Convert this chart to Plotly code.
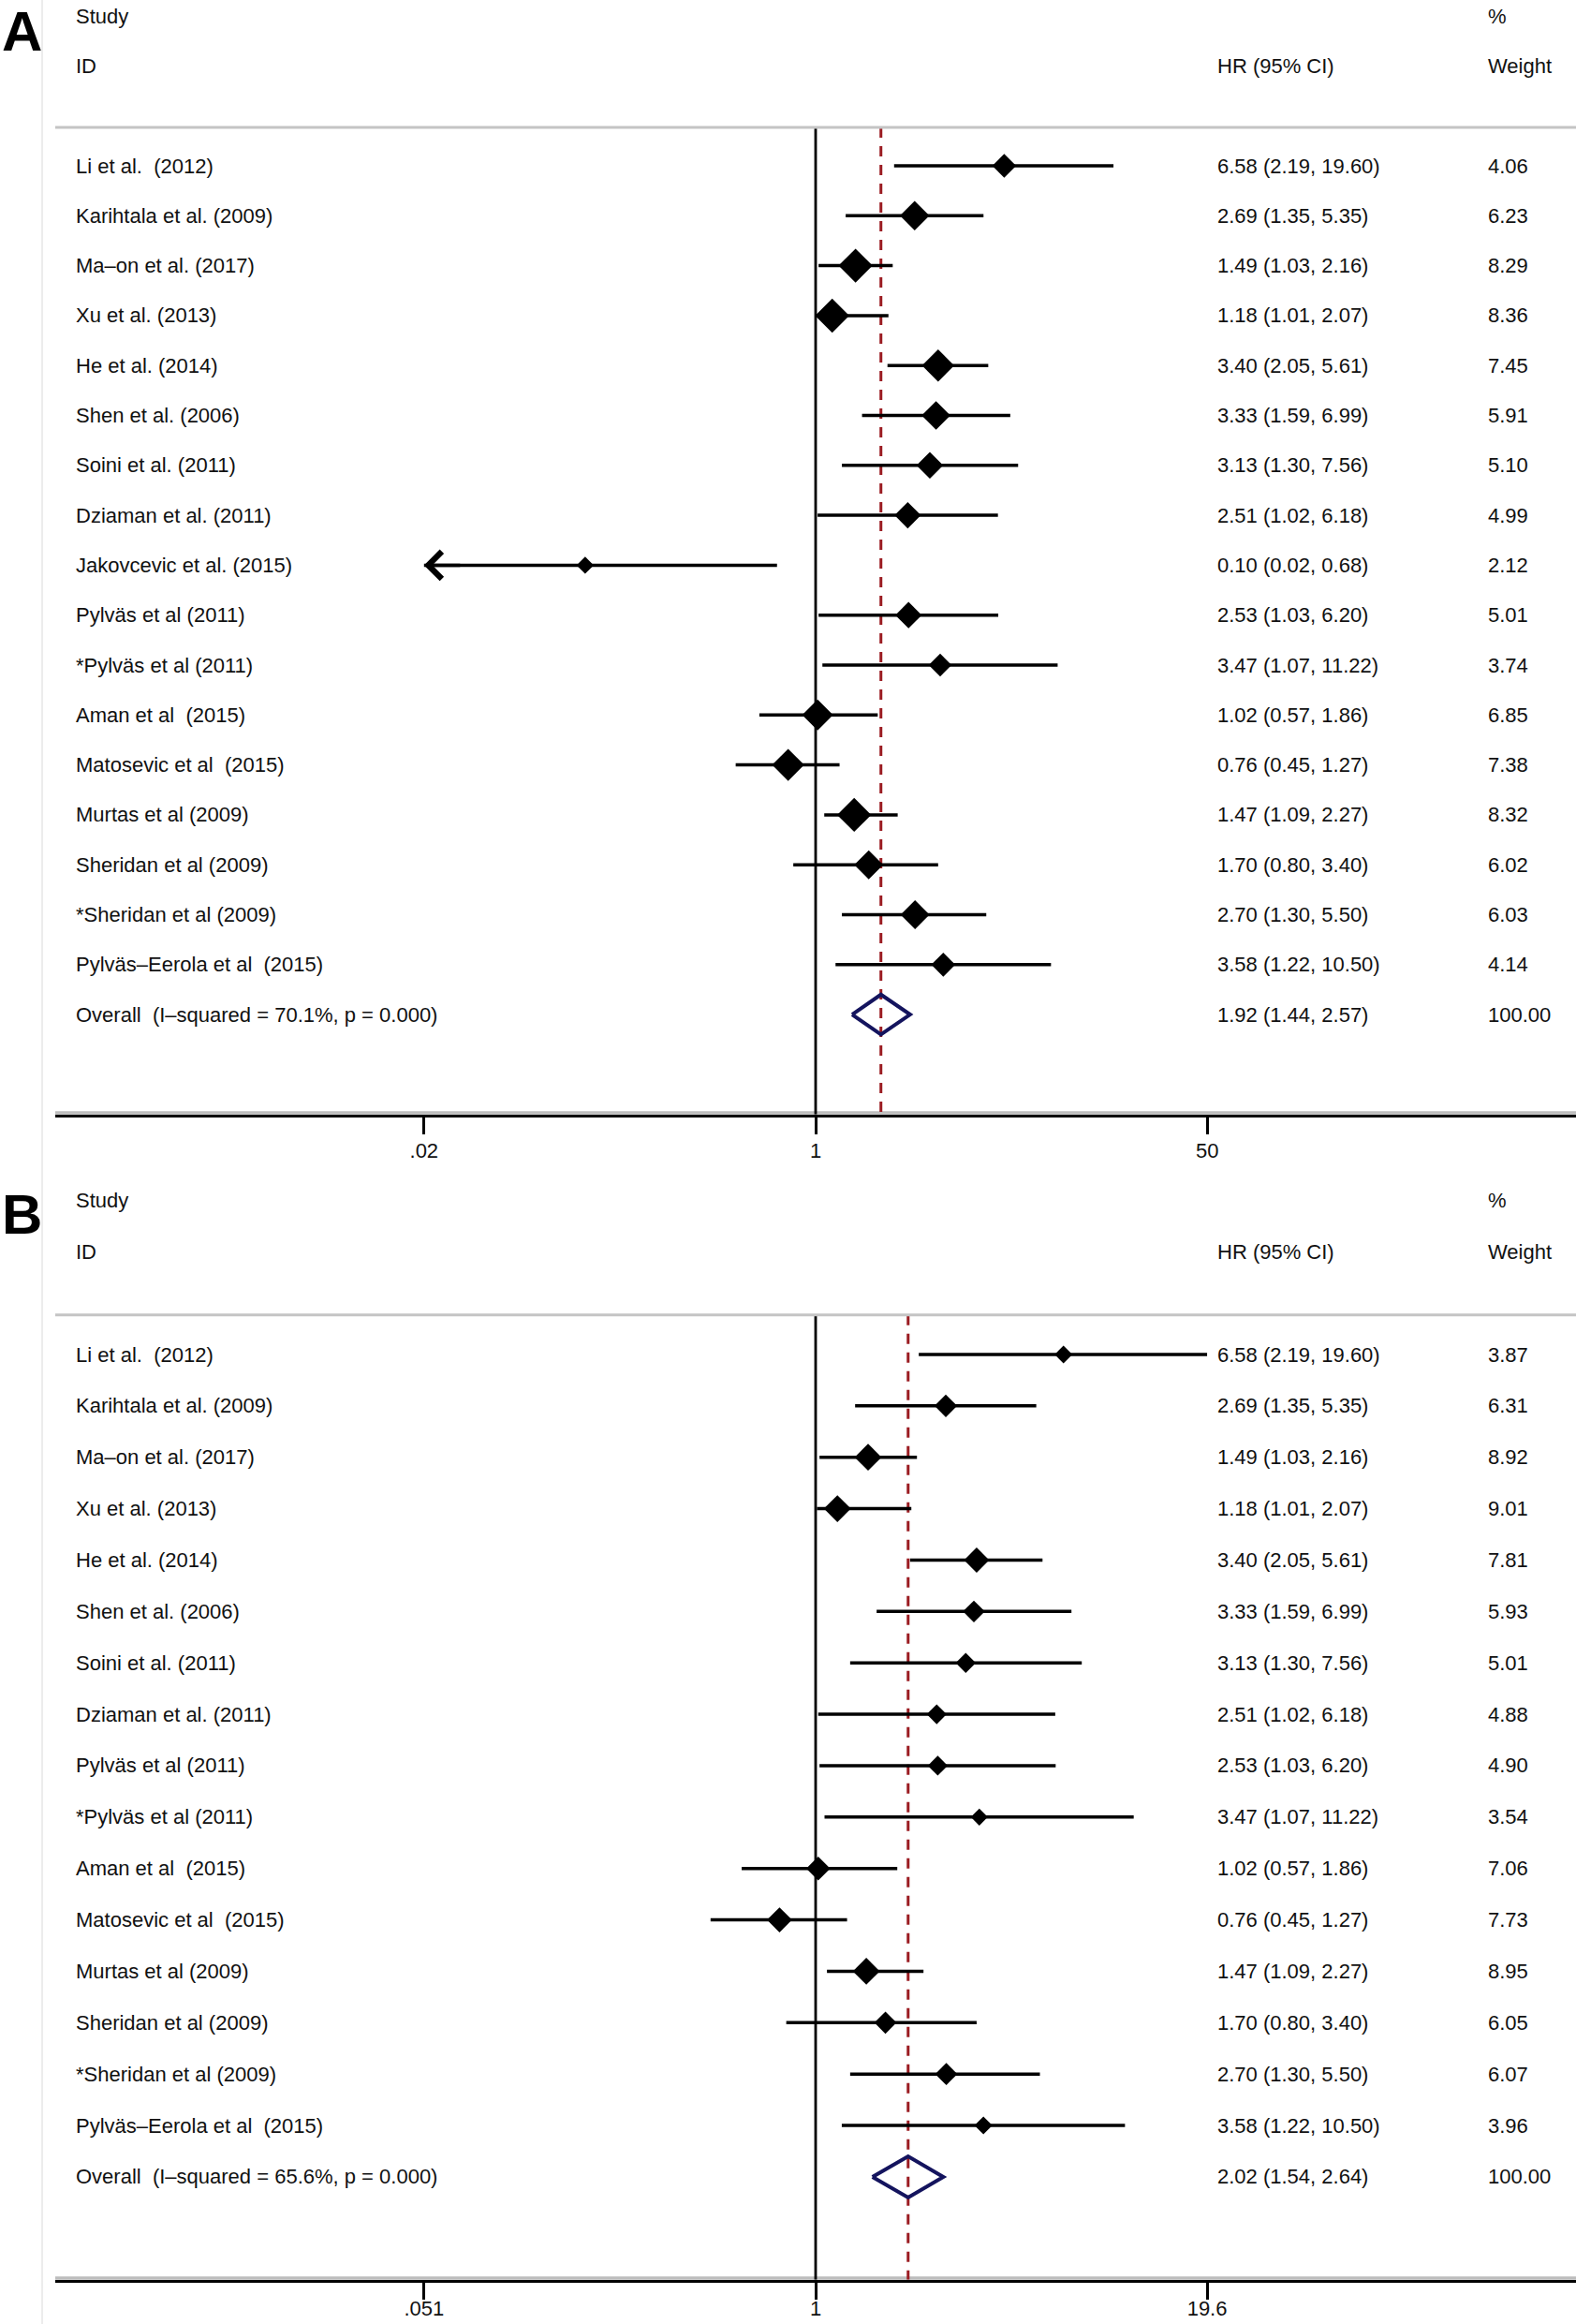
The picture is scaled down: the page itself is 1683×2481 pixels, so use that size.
import numpy as np
import plotly.graph_objects as go

# ─────────────────────────────────────────────
# Data — panel A (17 studies)
# ─────────────────────────────────────────────
studies_a = [
    "Li et al.  (2012)", "Karihtala et al. (2009)", "Ma–on et al. (2017)", "Xu et al. (2013)",
    "He et al. (2014)", "Shen et al. (2006)", "Soini et al. (2011)", "Dziaman et al. (2011)",
    "Jakovcevic et al. (2015)", "Pylväs et al (2011)", "*Pylväs et al (2011)", "Aman et al  (2015)",
    "Matosevic et al  (2015)", "Murtas et al (2009)", "Sheridan et al (2009)",
    "*Sheridan et al (2009)", "Pylväs–Eerola et al  (2015)",
]
hr_a = [6.58, 2.69, 1.49, 1.18, 3.40, 3.33, 3.13, 2.51, 0.10, 2.53, 3.47, 1.02, 0.76, 1.47, 1.70, 2.70, 3.58]
lo_a = [2.19, 1.35, 1.03, 1.01, 2.05, 1.59, 1.30, 1.02, 0.02, 1.03, 1.07, 0.57, 0.45, 1.09, 0.80, 1.30, 1.22]
hi_a = [19.60, 5.35, 2.16, 2.07, 5.61, 6.99, 7.56, 6.18, 0.68, 6.20, 11.22, 1.86, 1.27, 2.27, 3.40, 5.50, 10.50]
wt_a = [4.06, 6.23, 8.29, 8.36, 7.45, 5.91, 5.10, 4.99, 2.12, 5.01, 3.74, 6.85, 7.38, 8.32, 6.02, 6.03, 4.14]
overall_a = [1.92, 1.44, 2.57]
overall_label_a = "Overall  (I–squared = 70.1%, p = 0.000)"
ticks_a = [0.02, 1, 50]
ticktext_a = [".02", "1", "50"]

# ─────────────────────────────────────────────
# Data — panel B (16 studies)
# ─────────────────────────────────────────────
studies_b = [
    "Li et al.  (2012)", "Karihtala et al. (2009)", "Ma–on et al. (2017)", "Xu et al. (2013)",
    "He et al. (2014)", "Shen et al. (2006)", "Soini et al. (2011)", "Dziaman et al. (2011)",
    "Pylväs et al (2011)", "*Pylväs et al (2011)", "Aman et al  (2015)", "Matosevic et al  (2015)",
    "Murtas et al (2009)", "Sheridan et al (2009)", "*Sheridan et al (2009)",
    "Pylväs–Eerola et al  (2015)",
]
hr_b = [6.58, 2.69, 1.49, 1.18, 3.40, 3.33, 3.13, 2.51, 2.53, 3.47, 1.02, 0.76, 1.47, 1.70, 2.70, 3.58]
lo_b = [2.19, 1.35, 1.03, 1.01, 2.05, 1.59, 1.30, 1.02, 1.03, 1.07, 0.57, 0.45, 1.09, 0.80, 1.30, 1.22]
hi_b = [19.60, 5.35, 2.16, 2.07, 5.61, 6.99, 7.56, 6.18, 6.20, 11.22, 1.86, 1.27, 2.27, 3.40, 5.50, 10.50]
wt_b = [3.87, 6.31, 8.92, 9.01, 7.81, 5.93, 5.01, 4.88, 4.90, 3.54, 7.06, 7.73, 8.95, 6.05, 6.07, 3.96]
overall_b = [2.02, 1.54, 2.64]
overall_label_b = "Overall  (I–squared = 65.6%, p = 0.000)"
ticks_b = [0.051, 1, 19.6]
ticktext_b = [".051", "1", "19.6"]

# ─────────────────────────────────────────────
# Layout helpers (pixel geometry of the page)
# ─────────────────────────────────────────────
FIG_W, FIG_H = 1683, 2481
PLOT_L = 59
FONT = "Liberation Sans, Arial, sans-serif"
TXT = dict(family=FONT, size=22, color="#111111")
NAVY = "#14145e"
DARKRED = "#9b1c22"


def px_x(px):
    return (px - PLOT_L) / (FIG_W - PLOT_L)


def px_y(py):
    return 1 - py / FIG_H


def nb(s):
    # keep the double spaces visible in svg text
    return s.replace("  ", " \u00a0")


fig = go.Figure()
annotations, shapes = [], []


def add_panel(idx, studies, hr, lo, hi, wt, overall, overall_label, ticks, ticktext,
              xhalf, size_k, row0_px, row_h, top_row, letter, letter_py, label_standoff):
    xname = "x" if idx == 1 else f"x{idx}"
    yname = "y" if idx == 1 else f"y{idx}"
    n = len(studies)
    rows = list(range(n))
    ov_row = n
    axis_row = n + 2
    sep_row = -0.77

    # CI lines
    xs, ys = [], []
    for r, a, b in zip(rows, lo, hi):
        xs += [a, b, None]
        ys += [r, r, None]

    # dashed overall line + null line
    fig.add_trace(go.Scatter(x=[overall[0], overall[0]], y=[sep_row, axis_row], mode="lines",
                             line=dict(color=DARKRED, width=3, dash="11px,9px"),
                             xaxis=xname, yaxis=yname, hoverinfo="skip"))
    fig.add_trace(go.Scatter(x=[1, 1], y=[sep_row, axis_row], mode="lines",
                             line=dict(color="black", width=2.8),
                             xaxis=xname, yaxis=yname, hoverinfo="skip"))
    fig.add_trace(go.Scatter(x=xs, y=ys, mode="lines", line=dict(color="black", width=3.5),
                             xaxis=xname, yaxis=yname, hoverinfo="skip"))
    fig.add_trace(go.Scatter(
        x=hr, y=rows, mode="markers",
        marker=dict(symbol="diamond", color="#000000", opacity=1, line=dict(width=0),
                    size=[size_k * np.sqrt(w) for w in wt]),
        xaxis=xname, yaxis=yname, hoverinfo="skip"))

    # overall diamond
    est, olo, ohi = overall
    h = 0.4
    fig.add_trace(go.Scatter(x=[olo, est, ohi, est, olo],
                             y=[ov_row, ov_row - h, ov_row, ov_row + h, ov_row],
                             mode="lines", line=dict(color=NAVY, width=4),
                             xaxis=xname, yaxis=yname, hoverinfo="skip"))

    # arrows for CIs running off the labelled range
    for r, a in zip(rows, lo):
        if a <= min(ticks):
            annotations.append(dict(
                x=np.log10(a), y=r, xref=xname, yref=yname, text="",
                showarrow=True, axref="pixel", ayref="pixel", ax=40, ay=0,
                arrowhead=4, arrowsize=1.6, arrowwidth=3.5, arrowcolor="black"))

    # text columns
    col_name, col_hr, col_wt = px_x(79), px_x(1298), px_x(1587)

    def txt(x, y, s):
        annotations.append(dict(x=x, y=y, xref="paper", yref=yname, text=nb(s),
                                showarrow=False, xanchor="left", yanchor="middle", font=TXT))

    txt(col_name, -3, "Study")
    txt(col_name, -2, "ID")
    txt(col_hr, -2, "HR (95% CI)")
    txt(col_wt, -3, "%")
    txt(col_wt, -2, "Weight")
    for r, s, a, b, c, w in zip(rows, studies, hr, lo, hi, wt):
        txt(col_name, r, s)
        txt(col_hr, r, f"{a:.2f} ({b:.2f}, {c:.2f})")
        txt(col_wt, r, f"{w:.2f}")
    txt(col_name, ov_row, overall_label)
    txt(col_hr, ov_row, f"{est:.2f} ({olo:.2f}, {ohi:.2f})")
    txt(col_wt, ov_row, "100.00")

    # panel letter
    annotations.append(dict(x=px_x(0), y=px_y(letter_py), xref="paper", yref="paper",
                            text=f"<b>{letter}</b>", showarrow=False,
                            xanchor="left", yanchor="middle",
                            font=dict(family=FONT, size=60, color="black")))

    # grey separator under the header, grey halo under the axis line
    shapes.append(dict(type="line", xref="paper", yref=yname, x0=0, x1=1, y0=sep_row, y1=sep_row,
                       line=dict(color="#c4c4c4", width=3)))
    shapes.append(dict(type="line", xref="paper", yref=yname, x0=0, x1=1, y0=axis_row, y1=axis_row,
                       line=dict(color="#bdbdbd", width=7), layer="below"))

    dom_bottom = px_y(row0_px + axis_row * row_h)
    dom_top = px_y(row0_px + top_row * row_h)
    lim = xhalf
    fig.layout[("xaxis" if idx == 1 else f"xaxis{idx}")] = dict(
        type="log", range=[-lim, lim], domain=[0, 1], anchor=yname,
        showline=True, linecolor="black", linewidth=3, mirror=False,
        ticks="outside", ticklen=18, tickwidth=3, tickcolor="black",
        tickvals=ticks, ticktext=ticktext, tickfont=TXT, ticklabelstandoff=label_standoff,
        showgrid=False, zeroline=False, fixedrange=True, automargin=False,
    )
    fig.layout[("yaxis" if idx == 1 else f"yaxis{idx}")] = dict(
        range=[axis_row, top_row], domain=[dom_bottom, dom_top], anchor=xname,
        showline=False, showticklabels=False, ticks="", showgrid=False,
        zeroline=False, fixedrange=True, automargin=False,
    )


add_panel(1, studies_a, hr_a, lo_a, hi_a, wt_a, overall_a, overall_label_a, ticks_a, ticktext_a,
          xhalf=3.299, size_k=9.7, row0_px=177, row_h=53.3, top_row=-3.32, letter="A", letter_py=34,
          label_standoff=-1)
add_panel(2, studies_b, hr_b, lo_b, hi_b, wt_b, overall_b, overall_label_b, ticks_b, ticktext_b,
          xhalf=2.510, size_k=7.4, row0_px=1446, row_h=54.87, top_row=-3.4, letter="B", letter_py=1296,
          label_standoff=-9)

# faint frame line on the far left
shapes.append(dict(type="line", xref="paper", yref="paper", x0=px_x(45), x1=px_x(45), y0=0, y1=1,
                   line=dict(color="#ececec", width=2)))

fig.update_layout(
    width=FIG_W, height=FIG_H,
    margin=dict(l=PLOT_L, r=0, t=0, b=0, pad=0),
    plot_bgcolor="white", paper_bgcolor="white",
    showlegend=False,
    annotations=annotations, shapes=shapes,
    font=TXT,
)

fig.write_html("out.html", config={"displayModeBar": False},
               post_script="document.body.style.margin='0';document.body.style.overflow='hidden';")
